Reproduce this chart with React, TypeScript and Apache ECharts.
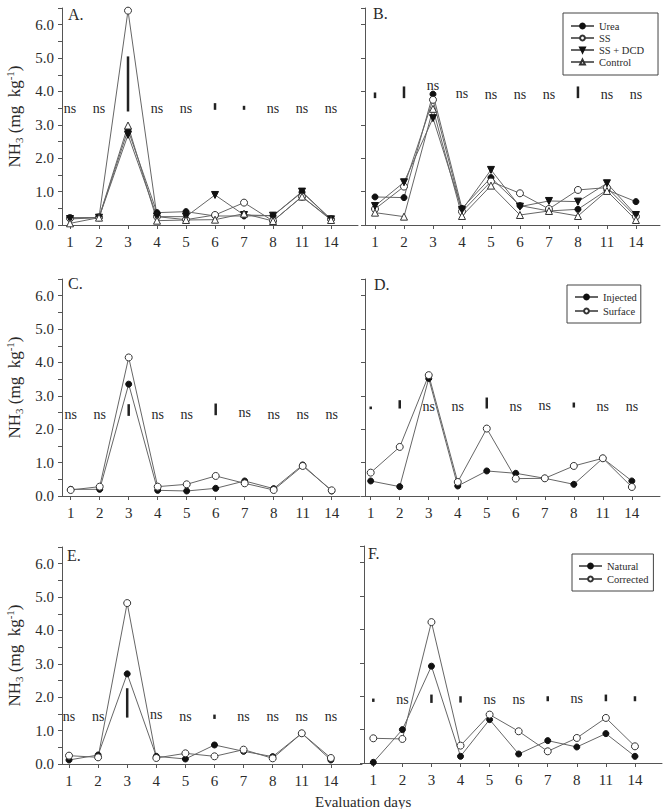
import React, { useEffect, useRef } from "react";
import * as echarts from "echarts";

const FONT = "'Liberation Serif', 'Times New Roman', serif";
const TXT = "#2a2a2a";
const AX = "#555";

const days = ["1", "2", "3", "4", "5", "6", "7", "8", "11", "14"];

// Panel A
const ureaA = [0.22, 0.22, 2.85, 0.37, 0.40, 0.27, 0.27, 0.28, 0.98, 0.17];
const ssA = [0.20, 0.23, 6.42, 0.25, 0.16, 0.30, 0.67, 0.12, 0.85, 0.17];
const ssdcdA = [0.18, 0.22, 2.70, 0.25, 0.25, 0.90, 0.30, 0.28, 1.00, 0.17];
const controlA = [0.05, 0.22, 2.98, 0.13, 0.15, 0.16, 0.34, 0.12, 0.85, 0.15];
// Panel B
const ureaB = [0.84, 0.82, 3.92, 0.50, 1.42, 0.58, 0.42, 0.47, 1.05, 0.70];
const ssB = [0.48, 1.15, 3.75, 0.40, 1.30, 0.95, 0.48, 1.05, 1.12, 0.25];
const ssdcdB = [0.57, 1.28, 3.20, 0.45, 1.65, 0.55, 0.72, 0.70, 1.25, 0.30];
const controlB = [0.37, 0.25, 3.48, 0.27, 1.18, 0.30, 0.42, 0.27, 1.02, 0.15];
// Panel C
const injectedC = [0.20, 0.20, 3.35, 0.17, 0.15, 0.23, 0.45, 0.22, 0.93, 0.15];
const surfaceC = [0.18, 0.28, 4.15, 0.28, 0.35, 0.60, 0.38, 0.18, 0.90, 0.17];
// Panel D
const injectedD = [0.45, 0.28, 3.52, 0.30, 0.75, 0.68, 0.53, 0.35, 1.13, 0.45];
const surfaceD = [0.70, 1.47, 3.62, 0.42, 2.02, 0.52, 0.53, 0.90, 1.13, 0.27];
// Panel E
const naturalE = [0.12, 0.27, 2.70, 0.23, 0.15, 0.57, 0.38, 0.22, 0.92, 0.12];
const correctedE = [0.25, 0.20, 4.82, 0.18, 0.32, 0.23, 0.43, 0.17, 0.92, 0.18];
// Panel F
const naturalF = [0.02, 1.00, 2.90, 0.20, 1.30, 0.27, 0.67, 0.48, 0.88, 0.20];
const correctedF = [0.74, 0.72, 4.22, 0.52, 1.45, 0.95, 0.35, 0.75, 1.35, 0.50];

// Significance: number = "ns" at that level, [low, high] = LSD bar
const sigA: any[] = [3.5, 3.5, [3.4, 5.05], 3.5, 3.5, [3.45, 3.65], [3.45, 3.57], 3.5, 3.5, 3.5];
const sigB: any[] = [[3.8, 3.97], [3.8, 4.15], 4.17, 3.93, 3.9, 3.9, 3.9, [3.8, 4.15], 3.9, 3.9];
const sigC: any[] = [2.45, 2.45, [2.4, 2.75], 2.45, 2.45, [2.42, 2.77], 2.5, 2.45, 2.45, 2.45];
const sigD: any[] = [[2.6, 2.68], [2.62, 2.87], 2.68, 2.68, [2.62, 2.95], 2.68, 2.72, [2.65, 2.8], 2.68, 2.68];
const sigE: any[] = [1.42, 1.42, [1.39, 2.27], 1.47, 1.42, [1.35, 1.48], 1.42, 1.42, 1.42, 1.42];
const sigF: any[] = [[1.83, 1.93], 1.9, [1.8, 2.05], [1.81, 2.0], 1.9, 1.9, [1.85, 2.0], 1.92, [1.85, 2.05], [1.85, 2.0]];

const mk = {
  filledCircle: { symbol: "circle", symbolSize: 6, itemStyle: { color: "#111", borderColor: "#111", borderWidth: 1 } },
  openCircle: { symbol: "circle", symbolSize: 7, itemStyle: { color: "#fff", borderColor: "#333", borderWidth: 1 } },
  filledTriDown: { symbol: "triangle", symbolRotate: 180, symbolSize: 7, itemStyle: { color: "#111", borderColor: "#111", borderWidth: 1 } },
  openTri: { symbol: "triangle", symbolSize: 7, itemStyle: { color: "#fff", borderColor: "#333", borderWidth: 1 } },
};

const panels = [
  {
    letter: "A.", lx: 68, ly: 15, yLabels: true, minor: true,
    grid: { left: 62, top: 8, width: 296, height: 217 }, xMin: 0.724, xMax: 10.93,
    lines: [["Urea", ureaA, mk.filledCircle], ["SS", ssA, mk.openCircle], ["SS + DCD", ssdcdA, mk.filledTriDown], ["Control", controlA, mk.openTri]],
    sig: sigA,
  },
  {
    letter: "B.", lx: 373, ly: 14, yLabels: false, minor: false,
    grid: { left: 365, top: 8, width: 295, height: 217 }, xMin: 0.655, xMax: 10.83,
    lines: [["Urea", ureaB, mk.filledCircle], ["SS", ssB, mk.openCircle], ["SS + DCD", ssdcdB, mk.filledTriDown], ["Control", controlB, mk.openTri]],
    sig: sigB,
  },
  {
    letter: "C.", lx: 68, ly: 284, yLabels: true, minor: true,
    grid: { left: 62, top: 279, width: 298, height: 217 }, xMin: 0.70, xMax: 10.976,
    lines: [["Injected", injectedC, mk.filledCircle], ["Surface", surfaceC, mk.openCircle]],
    sig: sigC,
  },
  {
    letter: "D.", lx: 374, ly: 285, yLabels: false, minor: false,
    grid: { left: 365, top: 279, width: 295, height: 217 }, xMin: 0.803, xMax: 10.97,
    lines: [["Injected", injectedD, mk.filledCircle], ["Surface", surfaceD, mk.openCircle]],
    sig: sigD,
  },
  {
    letter: "E.", lx: 67, ly: 556, yLabels: true, minor: true,
    grid: { left: 62, top: 547, width: 300, height: 217 }, xMin: 0.759, xMax: 11.07,
    lines: [["Natural", naturalE, mk.filledCircle], ["Corrected", correctedE, mk.openCircle]],
    sig: sigE,
  },
  {
    letter: "F.", lx: 368, ly: 554, yLabels: false, minor: false,
    grid: { left: 364, top: 546, width: 298, height: 217 }, xMin: 0.68, xMax: 10.93,
    lines: [["Natural", naturalF, mk.filledCircle], ["Corrected", correctedF, mk.openCircle]],
    sig: sigF,
  },
];

const tickVals = days.map((_, i) => i + 1);

export default function App() {
  const ref = useRef<HTMLDivElement>(null);
  useEffect(() => {
    if (!ref.current) return;
    const chart = echarts.init(ref.current, undefined, { renderer: "svg" });
    const grids: any[] = [];
    const xAxes: any[] = [];
    const yAxes: any[] = [];
    const series: any[] = [];
    const graphics: any[] = [];
    panels.forEach((p, gi) => {
      grids.push({ ...p.grid, containLabel: false });
      xAxes.push({
        type: "value", gridIndex: gi, min: p.xMin, max: p.xMax,
        axisLine: { show: true, lineStyle: { color: AX, width: 1 } },
        axisTick: { show: true, customValues: tickVals, length: 4, lineStyle: { color: AX } },
        axisLabel: {
          show: true, customValues: tickVals, margin: 9,
          formatter: (v: number) => days[Math.round(v) - 1] ?? "",
          fontFamily: FONT, fontSize: 15, color: TXT,
        },
        splitLine: { show: false },
      });
      yAxes.push({
        type: "value", gridIndex: gi, min: 0, max: 6.5, interval: p.minor ? 0.5 : 1,
        axisLine: { show: true, lineStyle: { color: AX, width: 1 } },
        axisTick: { show: true, length: 4, lineStyle: { color: AX } },
        axisLabel: {
          show: p.yLabels, margin: 8, fontFamily: FONT, fontSize: 15, color: TXT,
          formatter: (v: number) => (Math.abs(v - Math.round(v)) < 1e-6 && v <= 6 ? v.toFixed(1) : ""),
        },
        splitLine: { show: false },
        name: p.yLabels ? "{a|NH}{s|3}{a| (mg  kg}{p|-1}{a|)}" : "",
        nameLocation: "middle",
        nameGap: 38,
        nameRotate: 90,
        nameTextStyle: {
          fontFamily: FONT, fontSize: 17, color: TXT,
          rich: {
            a: { fontFamily: FONT, fontSize: 17, color: TXT, lineHeight: 20 },
            s: { fontFamily: FONT, fontSize: 11, color: TXT, lineHeight: 11, verticalAlign: "bottom" },
            p: { fontFamily: FONT, fontSize: 11, color: TXT, lineHeight: 11, verticalAlign: "top" },
          },
        },
      });
      p.lines.forEach(([name, vals, style]: any) => {
        series.push({
          type: "line", name, xAxisIndex: gi, yAxisIndex: gi,
          data: vals.map((v: number, i: number) => [i + 1, v]),
          ...style,
          lineStyle: { color: "#666", width: 1 },
          emphasis: { disabled: true },
          z: 3,
        });
      });
      series.push({
        type: "custom", xAxisIndex: gi, yAxisIndex: gi, silent: true, z: 4,
        data: p.sig.map((s: any, i: number) => (typeof s === "number" ? [i + 1, s, s, 0] : [i + 1, s[0], s[1], 1])),
        renderItem: (_params: any, api: any) => {
          const x = api.value(0);
          if (api.value(3) === 0) {
            const pt = api.coord([x, api.value(1)]);
            return {
              type: "text", x: pt[0], y: pt[1],
              style: { text: "ns", align: "center", verticalAlign: "middle", fontSize: 14, fontFamily: FONT, fill: TXT },
            };
          }
          const a = api.coord([x, api.value(1)]);
          const b = api.coord([x, api.value(2)]);
          return {
            type: "line",
            shape: { x1: a[0], y1: a[1], x2: b[0], y2: b[1] },
            style: { stroke: "#222", lineWidth: 2.5 },
          };
        },
      });
      graphics.push({
        type: "text", left: p.lx, top: p.ly - 9,
        style: { text: p.letter, fontSize: 16, fontFamily: FONT, fill: TXT },
      });
    });
    graphics.push({
      type: "text", left: 315, top: 794,
      style: { text: "Evaluation days", fontSize: 15, fontFamily: FONT, fill: TXT },
    });

    const legendBase = {
      orient: "vertical", selectedMode: false, backgroundColor: "#fff",
      borderColor: "#444", borderWidth: 1, borderRadius: 0,
      itemWidth: 23, itemHeight: 6, itemGap: 0,
      textStyle: { fontFamily: FONT, fontSize: 10.5, color: TXT, lineHeight: 12 },
    };
    chart.setOption({
      animation: false,
      backgroundColor: "#fff",
      grid: grids,
      xAxis: xAxes,
      yAxis: yAxes,
      series,
      graphic: graphics,
      legend: [
        { ...legendBase, data: ["Urea", "SS", "SS + DCD", "Control"], left: 563, top: 13, padding: [7, 14, 7, 7] },
        { ...legendBase, data: ["Injected", "Surface"], left: 567, top: 285, padding: [6, 4, 6, 7], itemGap: 2 },
        { ...legendBase, data: ["Natural", "Corrected"], left: 572, top: 554, padding: [6, 5, 6, 6], itemGap: 1 },
      ],
    });
    return () => chart.dispose();
  }, []);
  return <div ref={ref} style={{ position: "absolute", left: 0, top: 0, width: 665, height: 809 }} />;
}
